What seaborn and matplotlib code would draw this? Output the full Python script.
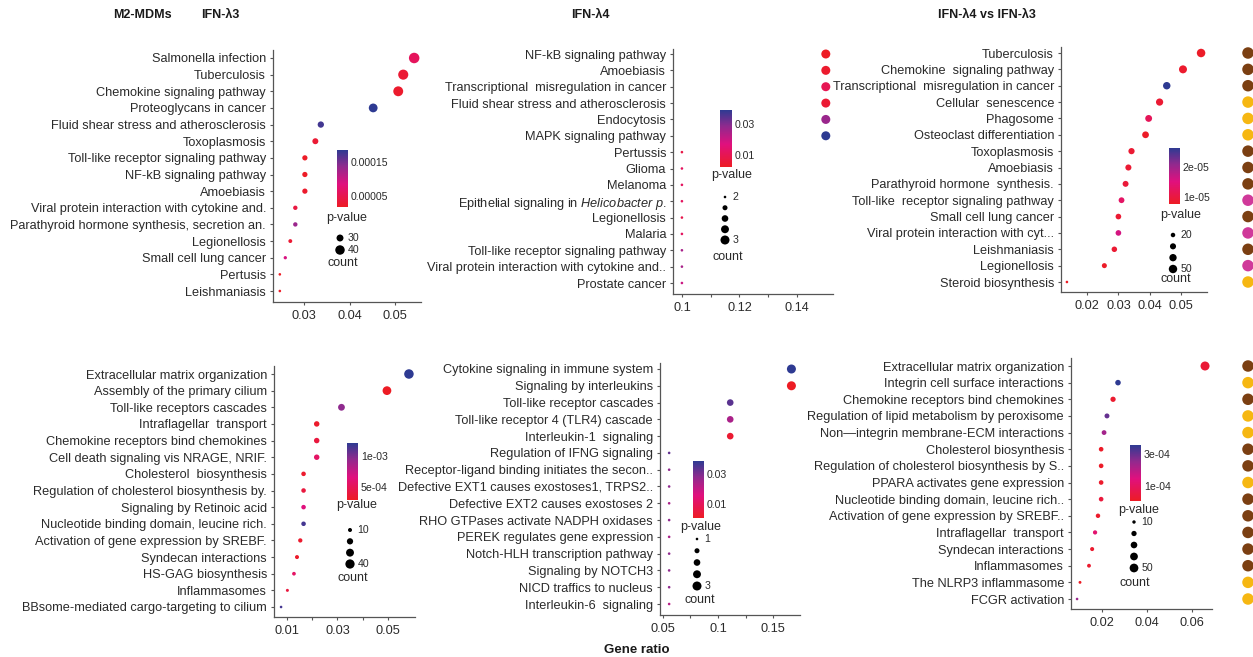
import numpy as np
import pandas as pd

import matplotlib
matplotlib.use('Agg')

import matplotlib.pyplot as plt
import matplotlib.cm as cm
from matplotlib.colors import LinearSegmentedColormap, Normalize
import seaborn as sns

# ---------------- data ----------------
# top-left: IFN-l3
tl_terms = ["Salmonella infection", "Tuberculosis", "Chemokine signaling pathway",
            "Proteoglycans in cancer", "Fluid shear stress and atherosclerosis",
            "Toxoplasmosis", "Toll-like receptor signaling pathway", "NF-kB signaling pathway",
            "Amoebiasis", "Viral protein interaction with cytokine and.",
            "Parathyroid hormone synthesis, secretion an.", "Legionellosis",
            "Small cell lung cancer", "Pertusis", "Leishmaniasis"]
tl_ratio = [0.0542, 0.0518, 0.0507, 0.0452, 0.0337, 0.0325, 0.0302, 0.0302, 0.0302,
            0.0281, 0.0281, 0.0270, 0.0259, 0.0247, 0.0247]
tl_count = [45, 43, 42, 37, 28, 27, 25, 25, 25, 23, 23, 22, 21, 20, 20]
tl_pval = [6e-5, 3e-5, 2.5e-5, 1.85e-4, 1.75e-4, 3e-5, 2e-5, 2e-5, 2.5e-5,
           4e-5, 1.3e-4, 3e-5, 9e-5, 1.8e-5, 2e-5]

# top-middle: IFN-l4
tm_terms = ["NF-kB signaling pathway", "Amoebiasis", "Transcriptional  misregulation in cancer",
            "Fluid shear stress and atherosclerosis", "Endocytosis", "MAPK signaling pathway",
            "Pertussis", "Glioma", "Melanoma", "Epithelial signaling in Helicobacter p.",
            "Legionellosis", "Malaria", "Toll-like receptor signaling pathway",
            "Viral protein interaction with cytokine and..", "Prostate cancer"]
tm_ratio = [0.15, 0.15, 0.15, 0.15, 0.15, 0.15, 0.10, 0.10, 0.10, 0.10, 0.10, 0.10,
            0.10, 0.10, 0.10]
tm_count = [3, 3, 3, 3, 3, 3, 2, 2, 2, 2, 2, 2, 2, 2, 2]
tm_pval = [0.0023, 0.004, 0.010, 0.005, 0.027, 0.039, 0.008, 0.012, 0.012, 0.012,
           0.009, 0.012, 0.025, 0.025, 0.020]

# top-right: IFN-l4 vs IFN-l3
tr_terms = ["Tuberculosis", "Chemokine  signaling pathway",
            "Transcriptional  misregulation in cancer", "Cellular  senescence", "Phagosome",
            "Osteoclast differentiation", "Toxoplasmosis", "Amoebiasis",
            "Parathyroid hormone  synthesis.", "Toll-like  receptor signaling pathway",
            "Small cell lung cancer", "Viral protein interaction with cyt...", "Leishmaniasis",
            "Legionellosis", "Steroid biosynthesis"]
tr_ratio = [0.0565, 0.0507, 0.0455, 0.0432, 0.0397, 0.0387, 0.0342, 0.0332, 0.0323,
            0.0310, 0.0300, 0.0300, 0.0287, 0.0255, 0.0135]
tr_count = [51, 46, 41, 39, 36, 35, 31, 30, 29, 28, 27, 27, 26, 23, 12]
tr_pval = [8e-6, 8.5e-6, 2.63e-5, 9e-6, 1.2e-5, 8e-6, 9e-6, 9e-6, 9.5e-6, 1.3e-5,
           9e-6, 1.6e-5, 9e-6, 8e-6, 7.7e-6]
tr_group = ["c1", "c1", "c1", "c2", "c2", "c2", "c1", "c1", "c1", "c3", "c1", "c3",
            "c1", "c3", "c2"]

# bottom-left: IFN-l3 (Reactome)
bl_terms = ["Extracellular matrix organization", "Assembly of the primary cilium",
            "Toll-like receptors cascades", "Intraflagellar  transport",
            "Chemokine receptors bind chemokines", "Cell death signaling vis NRAGE, NRIF.",
            "Cholesterol  biosynthesis", "Regulation of cholesterol biosynthesis by.",
            "Signaling by Retinoic acid", "Nucleotide binding domain, leucine rich.",
            "Activation of gene expression by SREBF.", "Syndecan interactions",
            "HS-GAG biosynthesis", "Inflammasomes", "BBsome-mediated cargo-targeting to cilium"]
bl_ratio = [0.0583, 0.0496, 0.0316, 0.0218, 0.0218, 0.0218, 0.0166, 0.0166, 0.0166,
            0.0166, 0.0153, 0.0140, 0.0128, 0.0102, 0.0077]
bl_count = [42, 36, 23, 16, 16, 16, 12, 12, 12, 12, 11, 10, 9, 7, 6]
bl_pval = [1.21e-3, 2.9e-4, 9.5e-4, 3.2e-4, 4e-4, 5.5e-4, 3.3e-4, 4e-4, 6.5e-4,
           1.15e-3, 3.3e-4, 3.2e-4, 5.5e-4, 4e-4, 1.15e-3]

# bottom-middle: IFN-l4 (Reactome)
bm_terms = ["Cytokine signaling in immune system", "Signaling by interleukins",
            "Toll-like receptor cascades", "Toll-like receptor 4 (TLR4) cascade",
            "Interleukin-1  signaling", "Regulation of IFNG signaling",
            "Receptor-ligand binding initiates the secon..",
            "Defective EXT1 causes exostoses1, TRPS2..", "Defective EXT2 causes exostoses 2",
            "RHO GTPases activate NADPH oxidases", "PEREK regulates gene expression",
            "Notch-HLH transcription pathway", "Signaling by NOTCH3",
            "NICD traffics to nucleus", "Interleukin-6  signaling"]
bm_ratio = [0.1667, 0.1667, 0.1111, 0.1111, 0.1111, 0.0556, 0.0556, 0.0556, 0.0556,
            0.0556, 0.0556, 0.0556, 0.0556, 0.0556, 0.0556]
bm_count = [3, 3, 2, 2, 2, 1, 1, 1, 1, 1, 1, 1, 1, 1, 1]
bm_pval = [0.039, 0.0005, 0.034, 0.024, 0.003, 0.033, 0.028, 0.028, 0.024, 0.028,
           0.024, 0.028, 0.028, 0.028, 0.022]

# bottom-right: IFN-l4 vs IFN-l3 (Reactome)
br_terms = ["Extracellular matrix organization", "Integrin cell surface interactions",
            "Chemokine receptors bind chemokines",
            "Regulation of lipid metabolism by peroxisome",
            "Non\u2014integrin membrane-ECM interactions", "Cholesterol biosynthesis",
            "Regulation of cholesterol biosynthesis by S..", "PPARA activates gene expression",
            "Nucleotide binding domain, leucine rich..",
            "Activation of gene expression by SREBF..", "Intraflagellar  transport",
            "Syndecan interactions", "Inflammasomes", "The NLRP3 inflammasome",
            "FCGR activation"]
br_ratio = [0.0658, 0.0271, 0.0249, 0.0222, 0.0209, 0.0196, 0.0196, 0.0196, 0.0196,
            0.0182, 0.0169, 0.0156, 0.0142, 0.0102, 0.0089]
br_count = [53, 22, 20, 18, 17, 16, 16, 16, 16, 15, 14, 13, 12, 8, 7]
br_pval = [3e-5, 3.58e-4, 2e-5, 3e-4, 2.3e-4, 1e-5, 1e-5, 1.5e-5, 4e-5, 1.5e-5,
           1.2e-4, 2e-5, 2e-5, 2e-6, 2.4e-4]
br_group = ["c1", "c2", "c1", "c2", "c2", "c1", "c1", "c2", "c1", "c1", "c1", "c1",
            "c1", "c2", "c2"]

group_colors = {"c1": "#7B3F12", "c2": "#F6B712", "c3": "#D0399A"}

# ---------------- style ----------------
sns.set_theme(style="white")
plt.rcParams['font.family'] = ['Liberation Sans', 'DejaVu Sans']
plt.rcParams['mathtext.fontset'] = 'custom'
plt.rcParams['mathtext.rm'] = 'Liberation Sans'
plt.rcParams['mathtext.it'] = 'Liberation Sans:italic'

W, H = 1253, 657
fig = plt.figure(figsize=(W / 100, H / 100), dpi=100)
TXT = "#2a2a2a"
AXC = "#555555"

pv_cmap = LinearSegmentedColormap.from_list(
    "pv", [(0, "#ED1C24"), (0.4, "#E0107E"), (0.72, "#8E2A8E"), (1, "#2E3A92")])


def px_rect(l, t, r, b):
    return [l / W, 1 - b / H, (r - l) / W, (b - t) / H]


def d2s(d_px):
    # dot diameter in pixels -> marker area in pt^2
    return (d_px * 0.72) ** 2


def draw_panel(terms, ratio, count, pval, lay, groups=None):
    df = pd.DataFrame({"term": terms, "ratio": ratio, "count": count, "pval": pval})
    n = len(terms)
    l, t, r, b = lay["box"]
    ax = fig.add_axes(px_rect(l, t, r, b))
    norm = Normalize(min(pval), max(pval))
    cmin, cmax = min(count), max(count)
    smin, smax = d2s(lay["dmin"]), d2s(lay["dmax"])
    sns.scatterplot(data=df, x="ratio", y="term", hue="pval", palette=pv_cmap,
                    hue_norm=norm, size="count", sizes=(smin, smax),
                    size_norm=(cmin, cmax), edgecolor="none", linewidth=0,
                    legend=False, ax=ax, clip_on=False)
    y0, y1 = lay["rows"]
    step = (y1 - y0) / (n - 1)
    ylim = ((n - 1) + (b - y1) / step, -(y0 - t) / step)
    ax.set_ylim(*ylim)
    ax.set_xlim(*lay["xlim"])
    ax.set_xticks(lay["xticks"])
    ax.set_xticklabels(lay["xlabels"])
    if lay.get("minor"):
        ax.set_xticks(lay["minor"], minor=True)
    ax.set_xlabel("")
    ax.set_ylabel("")
    for s in ["top", "right"]:
        ax.spines[s].set_visible(False)
    for s in ["left", "bottom"]:
        ax.spines[s].set_color(AXC)
        ax.spines[s].set_linewidth(0.9)
    ax.tick_params(axis="both", which="both", direction="out", length=2.5, width=0.8,
                   color=AXC, labelcolor=TXT, labelsize=9.2, pad=2.5)
    ax.tick_params(axis="x", which="both", bottom=True, pad=3)
    ax.tick_params(axis="y", left=True)
    if lay.get("italic"):
        labels = [lay["italic"].get(tl.get_text(), tl.get_text()) for tl in ax.get_yticklabels()]
        ax.set_yticks(range(n))
        ax.set_yticklabels(labels)

    # colour bar
    cax = fig.add_axes(px_rect(*lay["cbar"]))
    cb = fig.colorbar(cm.ScalarMappable(norm=norm, cmap=pv_cmap), cax=cax)
    cb.outline.set_visible(False)
    cb.set_ticks(lay["cticks"])
    cb.set_ticklabels(lay["clabels"])
    cax.tick_params(length=0, labelsize=7.6, pad=2, labelcolor=TXT)
    fig.text(lay["ptitle"][0] / W, 1 - lay["ptitle"][1] / H, "p-value", fontsize=9,
             color=TXT, ha="center", va="center")

    # size key
    kx, ky0, ky1 = lay["key"]
    kv = lay["kvals"]
    k = len(kv)
    kax = fig.add_axes(px_rect(kx - 10, ky0, kx + 10, ky1))
    kax.set_xlim(-1, 1)
    kax.set_ylim(k - 1, 0)
    kax.axis("off")
    ksize = [smin + (smax - smin) * (v - cmin) / (cmax - cmin) for v in kv]
    kax.scatter(np.zeros(k), np.arange(k), s=ksize, color="black", edgecolor="none",
                clip_on=False)
    for i, lab in enumerate(lay["klabels"]):
        if lab:
            kax.text(0.75, i, lab, fontsize=7.6, color=TXT, ha="left", va="center")
    fig.text(lay["ctitle"][0] / W, 1 - lay["ctitle"][1] / H, "count", fontsize=9,
             color=TXT, ha="center", va="center")

    # category strip at the right edge
    if groups is not None:
        gdf = pd.DataFrame({"term": terms, "group": groups, "col": "g"})
        sax = fig.add_axes(px_rect(1238, t, 1258, b))
        sns.scatterplot(data=gdf, x="col", y="term", hue="group", palette=group_colors,
                        s=d2s(11.5), edgecolor="none", legend=False, ax=sax, clip_on=False)
        sax.set_ylim(*ylim)
        sax.set_xlim(-0.5, 0.5)
        sax.axis("off")
    return ax


layouts = {
    "tl": dict(box=(273, 50, 421, 302), rows=(58, 291), xlim=(0.0232, 0.0557),
               xticks=[0.03, 0.04, 0.05], xlabels=["0.03", "0.04", "0.05"],
               dmin=2.6, dmax=10.5, cbar=(337, 150, 348, 207), cticks=[5e-5, 1.5e-4],
               clabels=["0.00005", "0.00015"], ptitle=(347, 218),
               key=(340, 238, 250), kvals=[30, 40], klabels=["30", "40"], ctitle=(343, 263)),
    "tm": dict(box=(673, 49, 833, 294), rows=(54, 283), xlim=(0.0969, 0.1525),
               xticks=[0.1, 0.12, 0.14], xlabels=["0.1", "0.12", "0.14"], minor=[0.11, 0.13],
               dmin=2.6, dmax=9, cbar=(720, 110, 732, 167), cticks=[0.01, 0.03],
               clabels=["0.01", "0.03"], ptitle=(732, 175),
               key=(725, 197, 240), kvals=[2, 2.25, 2.5, 2.75, 3],
               klabels=["2", "", "", "", "3"], ctitle=(728, 257),
               italic={"Epithelial signaling in Helicobacter p.":
                       r"Epithelial signaling in $\it{Helicobacter\ p.}$"}),
    "tr": dict(box=(1061, 47, 1207, 292), rows=(53, 282), xlim=(0.0116, 0.0584),
               xticks=[0.02, 0.03, 0.04, 0.05], xlabels=["0.02", "0.03", "0.04", "0.05"],
               dmin=2.6, dmax=8.5, cbar=(1169, 148, 1180, 204), cticks=[1e-5, 2e-5],
               clabels=["1e-05", "2e-05"], ptitle=(1181, 215),
               key=(1173, 235, 269), kvals=[20, 30, 40, 50], klabels=["20", "", "", "50"],
               ctitle=(1176, 279)),
    "bl": dict(box=(274, 366, 415, 617), rows=(374, 607), xlim=(0.0049, 0.0607),
               xticks=[0.01, 0.03, 0.05], xlabels=["0.01", "0.03", "0.05"], minor=[0.02, 0.04],
               dmin=2.6, dmax=9.5, cbar=(347, 443, 358, 500), cticks=[5e-4, 1e-3],
               clabels=["5e-04", "1e-03"], ptitle=(357, 505),
               key=(350, 530, 564), kvals=[10, 20, 30, 40], klabels=["10", "", "", "40"],
               ctitle=(353, 578)),
    "bm": dict(box=(660, 363, 800, 615), rows=(369, 604), xlim=(0.0473, 0.1745),
               xticks=[0.05, 0.1, 0.15], xlabels=["0.05", "0.1", "0.15"],
               minor=[0.075, 0.125], dmin=2.6, dmax=9, cbar=(693, 461, 704, 518),
               cticks=[0.01, 0.03], clabels=["0.01", "0.03"], ptitle=(701, 527),
               key=(697, 539, 586), kvals=[1, 1.5, 2, 2.5, 3], klabels=["1", "", "", "", "3"],
               ctitle=(700, 600)),
    "br": dict(box=(1071, 358, 1212, 609), rows=(366, 599), xlim=(0.0062, 0.0689),
               xticks=[0.02, 0.04, 0.06], xlabels=["0.02", "0.04", "0.06"],
               dmin=2.6, dmax=9, cbar=(1130, 445, 1141, 501), cticks=[1e-4, 3e-4],
               clabels=["1e-04", "3e-04"], ptitle=(1139, 510),
               key=(1134, 522, 568), kvals=[10, 20, 30, 40, 50],
               klabels=["10", "", "", "", "50"], ctitle=(1135, 583)),
}

draw_panel(tl_terms, tl_ratio, tl_count, tl_pval, layouts["tl"])
draw_panel(tm_terms, tm_ratio, tm_count, tm_pval, layouts["tm"])
draw_panel(tr_terms, tr_ratio, tr_count, tr_pval, layouts["tr"], groups=tr_group)
draw_panel(bl_terms, bl_ratio, bl_count, bl_pval, layouts["bl"])
draw_panel(bm_terms, bm_ratio, bm_count, bm_pval, layouts["bm"])
draw_panel(br_terms, br_ratio, br_count, br_pval, layouts["br"], groups=br_group)

# headers
for x, s in [(142, "M2-MDMs"), (220, "IFN-\u03bb3"), (590, "IFN-\u03bb4"),
             (987, "IFN-\u03bb4 vs IFN-\u03bb3")]:
    fig.text(x / W, 1 - 15 / H, s, fontsize=9, fontweight="bold", color="#1a1a1a",
             ha="center", va="center")
fig.text(637 / W, 1 - 650 / H, "Gene ratio", fontsize=9.5, fontweight="bold",
         color="#1a1a1a", ha="center", va="center")

fig.savefig("out.png", dpi=100, facecolor="white")
plt.close(fig)
